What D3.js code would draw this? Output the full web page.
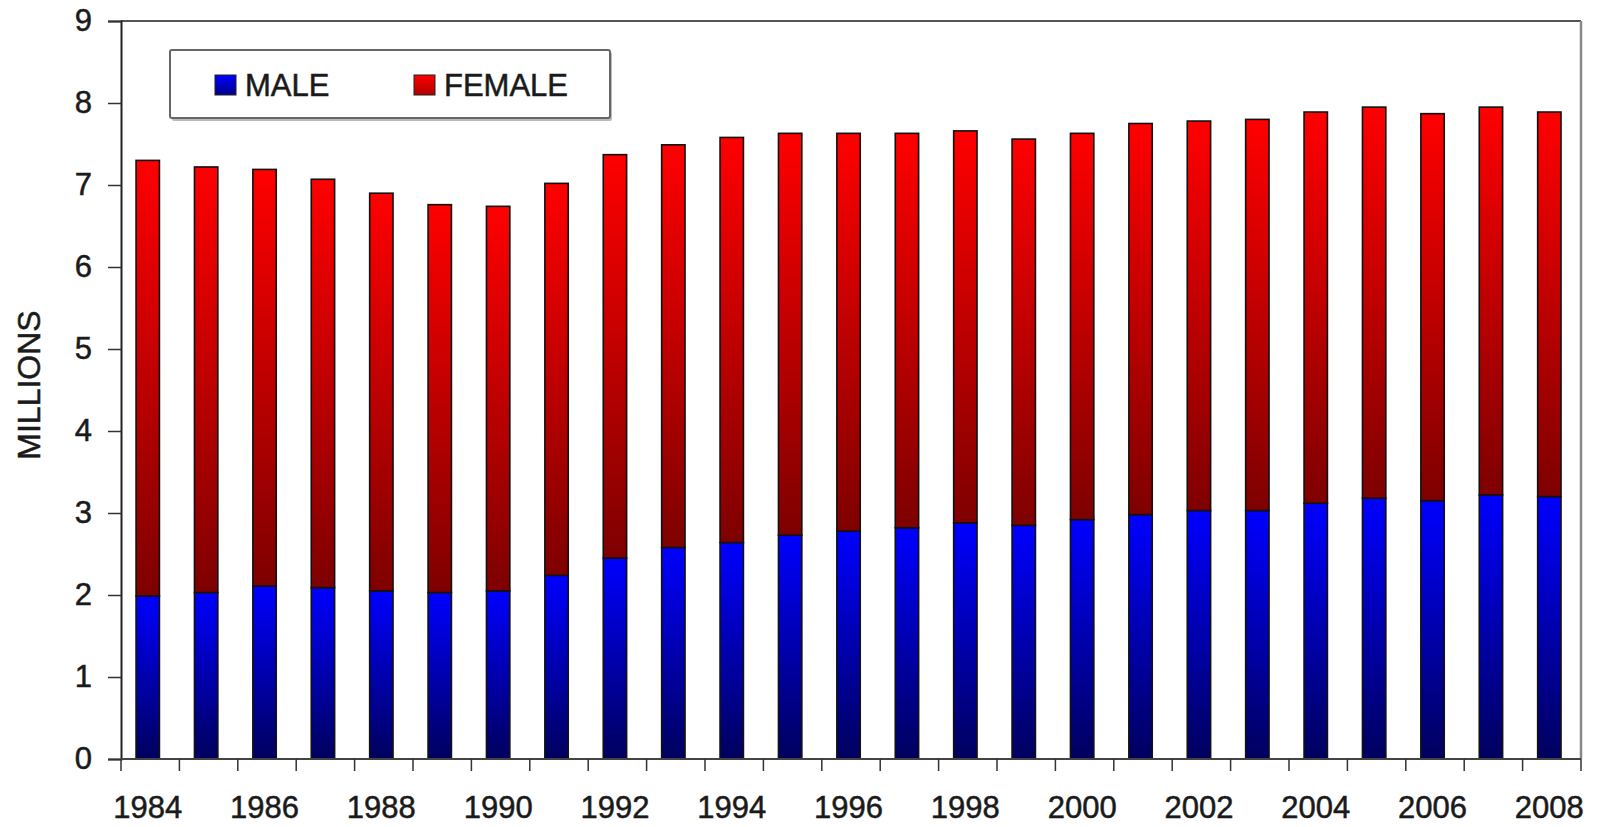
<!DOCTYPE html>
<html>
<head>
<meta charset="utf-8">
<title>Male / Female, millions</title>
<script src="https://d3js.org/d3.v7.min.js"></script>
<style>
    body { margin: 0; background: #fff; }
    text { font-family: "Liberation Sans", Arial, sans-serif; fill: #1a1a1a; stroke: #1a1a1a; stroke-width: 0.5px; }
</style>
</head>
<body>
<svg id="chart"></svg>
<script>
// data (millions)
var years = d3.range(1984, 2009).map(String);
var male   = [1.99, 2.03, 2.11, 2.09, 2.05, 2.03, 2.05, 2.24, 2.45, 2.58, 2.64, 2.73, 2.78,
              2.82, 2.88, 2.85, 2.92, 2.98, 3.03, 3.03, 3.12, 3.18, 3.15, 3.22, 3.20];
var female = [5.31, 5.19, 5.08, 4.98, 4.85, 4.73, 4.69, 4.78, 4.92, 4.91, 4.94, 4.90, 4.85,
              4.81, 4.78, 4.71, 4.71, 4.77, 4.75, 4.77, 4.77, 4.77, 4.72, 4.73, 4.69];
var seriesNames = ["MALE", "FEMALE"];
var yTicks = [0, 1, 2, 3, 4, 5, 6, 7, 8, 9];
var xLabels = years.filter(function(d, i){ return i % 2 == 0; });

var width = 1597, height = 827;
var plotLeft = 121, plotRight = 1581, plotTop = 21, plotBottom = 759;

var svg = d3.select("#chart").attr("width", width).attr("height", height);

// gradients
var defs = svg.append("defs");
function grad(id, c1, c2){
    var g = defs.append("linearGradient").attr("id", id)
        .attr("x1", 0).attr("y1", 0).attr("x2", 0).attr("y2", 1);
    g.append("stop").attr("offset", "0%").attr("stop-color", c1);
    g.append("stop").attr("offset", "100%").attr("stop-color", c2);
}
grad("gMale", "#0000ff", "#00005e");
grad("gFemale", "#ff0000", "#7e0000");
grad("gMaleKey", "#0000ff", "#00008a");
grad("gFemaleKey", "#ff0000", "#b00000");

var x = d3.scaleBand().domain(years).range([plotLeft, plotRight])
    .paddingInner(0.6).paddingOuter(0.3).align(0.43);
var y = d3.scaleLinear().domain([0, 9]).range([plotBottom, plotTop]);

// stack
var rows = years.map(function(d, i){ return {year: d, MALE: male[i], FEMALE: female[i]}; });
var stack = d3.stack().keys(seriesNames)(rows);
var fills = {MALE: "url(#gMale)", FEMALE: "url(#gFemale)"};

// frame top + right
svg.append("line").attr("x1", plotLeft).attr("x2", plotRight).attr("y1", plotTop).attr("y2", plotTop)
    .attr("stroke", "#555").attr("stroke-width", 2);
svg.append("line").attr("x1", plotRight).attr("x2", plotRight).attr("y1", plotTop).attr("y2", plotBottom)
    .attr("stroke", "#888").attr("stroke-width", 2.5);

svg.selectAll("g.layer").data(stack).enter().append("g").attr("class", "layer")
    .attr("fill", function(d){ return fills[d.key]; })
    .selectAll("rect").data(function(d){ return d; }).enter().append("rect")
    .attr("x", function(d){ return x(d.data.year); })
    .attr("width", x.bandwidth())
    .attr("y", function(d){ return y(d[1]); })
    .attr("height", function(d){ return y(d[0]) - y(d[1]); })
    .attr("stroke", "#111").attr("stroke-width", 1.6);

// y axis
var yAxis = svg.append("g").attr("transform", "translate(" + plotLeft + ",0)")
    .call(d3.axisLeft(y).tickValues(yTicks).tickSize(13).tickPadding(16).tickFormat(d3.format("d")));
yAxis.select(".domain").attr("stroke", "#222").attr("stroke-width", 2);
yAxis.selectAll(".tick line").attr("stroke", "#333").attr("stroke-width", 1.5);
yAxis.selectAll("text").style("font-size", "31px").attr("fill", "#1a1a1a");

// x axis: ticks between bars, labels every second year
var step = x.step();
var bottomAxis = svg.append("g");
bottomAxis.append("line").attr("x1", plotLeft).attr("x2", plotRight).attr("y1", plotBottom).attr("y2", plotBottom)
    .attr("stroke", "#444").attr("stroke-width", 2);
bottomAxis.selectAll("line.tk").data(d3.range(years.length + 1)).enter().append("line")
    .attr("class", "tk")
    .attr("x1", function(i){ return plotLeft + i * step; })
    .attr("x2", function(i){ return plotLeft + i * step; })
    .attr("y1", plotBottom).attr("y2", plotBottom + 12)
    .attr("stroke", "#333").attr("stroke-width", 1.5);
bottomAxis.selectAll("text").data(xLabels).enter().append("text")
    .attr("x", function(d){ return x(d) + x.bandwidth() / 2; })
    .attr("y", 818)
    .attr("text-anchor", "middle")
    .style("font-size", "31px")
    .text(function(d){ return d; });

// y title
svg.append("text")
    .attr("transform", "translate(40,385) rotate(-90)")
    .attr("text-anchor", "middle")
    .style("font-size", "32px")
    .text("MILLIONS");

// legend
var legend = svg.append("g");
legend.append("rect").attr("x", 172).attr("y", 52).attr("width", 440).attr("height", 69)
    .attr("rx", 2).attr("fill", "#bbb");
legend.append("rect").attr("x", 170).attr("y", 50).attr("width", 440).attr("height", 68)
    .attr("rx", 2).attr("fill", "#fff").attr("stroke", "#666").attr("stroke-width", 2);
var keyX = [215, 414];
var keyFill = ["url(#gMaleKey)", "url(#gFemaleKey)"];
seriesNames.forEach(function(name, i){
    legend.append("rect").attr("x", keyX[i]).attr("y", 75).attr("width", 21).attr("height", 20)
        .attr("fill", keyFill[i]).attr("stroke", "#222").attr("stroke-width", 1);
    legend.append("text").attr("x", keyX[i] + 30).attr("y", 96)
        .style("font-size", "31px").text(name);
});
</script>
</body>
</html>
